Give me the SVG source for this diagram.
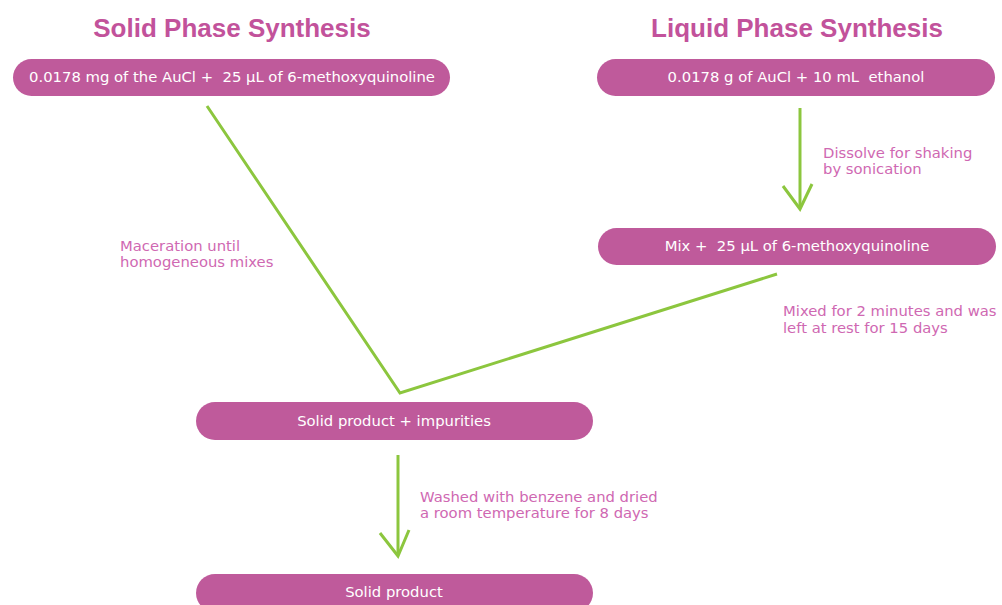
<svg xmlns="http://www.w3.org/2000/svg" width="1002" height="605" viewBox="0 0 1002 605">
<style>
.title{font-family:"Liberation Sans",Arial,sans-serif;font-weight:bold;font-size:26px;fill:#c2529b;text-anchor:middle}
.box{fill:#bf5a9b}
.bt{font-family:"DejaVu Sans","Liberation Sans",sans-serif;font-size:14.8px;fill:#ffffff;text-anchor:middle}
.lbl{font-family:"DejaVu Sans","Liberation Sans",sans-serif;font-size:14.8px;fill:#cf68b2}
.con{fill:none;stroke:#8cc63e;stroke-width:3;stroke-linejoin:miter;stroke-linecap:butt}
</style>
<rect width="1002" height="605" fill="#ffffff"/>
<text class="title" x="232" y="37">Solid Phase Synthesis</text>
<text class="title" x="797" y="37">Liquid Phase Synthesis</text>
<g id="connectors">
<path class="con" d="M207,106 L400,393 L777,274"/>
<path class="con" d="M800,108 L800,208"/>
<path class="con" d="M783,186 L800,209 L812,184"/>
<path class="con" d="M398,455 L398,554"/>
<path class="con" d="M380,533 L398,556 L409,530"/>
</g>
<g id="n1"><rect class="box" x="13" y="59" width="437" height="37" rx="18.5"/><text class="bt" x="232" y="82" xml:space="preserve">0.0178 mg of the AuCl +  25 µL of 6-methoxyquinoline</text></g>
<g id="n2"><rect class="box" x="597" y="59" width="398" height="37" rx="18.5"/><text class="bt" x="796" y="82" xml:space="preserve">0.0178 g of AuCl + 10 mL  ethanol</text></g>
<g id="n3"><rect class="box" x="598" y="228" width="398" height="37" rx="18.5"/><text class="bt" x="797" y="251" xml:space="preserve">Mix +  25 µL of 6-methoxyquinoline</text></g>
<g id="n4"><rect class="box" x="196" y="402" width="397" height="38" rx="19"/><text class="bt" x="394" y="426">Solid product + impurities</text></g>
<g id="n5"><rect class="box" x="196" y="574" width="397" height="38" rx="19"/><text class="bt" x="394" y="597">Solid product</text></g>
<g id="labels">
<text class="lbl" x="823" y="158">Dissolve for shaking</text>
<text class="lbl" x="823" y="174">by sonication</text>
<text class="lbl" x="120" y="251">Maceration until</text>
<text class="lbl" x="120" y="267">homogeneous mixes</text>
<text class="lbl" x="783" y="316">Mixed for 2 minutes and was</text>
<text class="lbl" x="783" y="333">left at rest for 15 days</text>
<text class="lbl" x="420" y="502">Washed with benzene and dried</text>
<text class="lbl" x="420" y="518">a room temperature for 8 days</text>
</g>
</svg>
